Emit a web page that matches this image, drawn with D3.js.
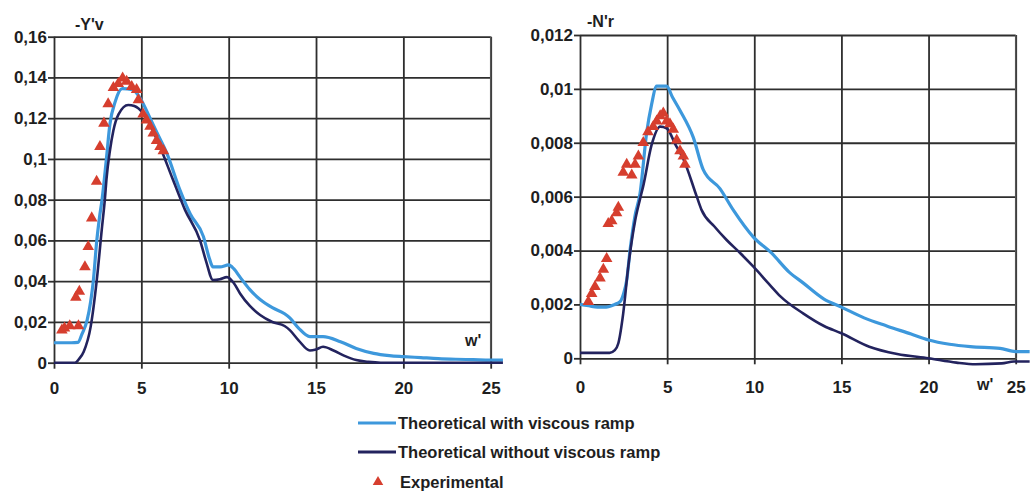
<!DOCTYPE html>
<html lang="en">
<head>
    <title>Y'v and N'r vs w'</title>
    <script src="https://d3js.org/d3.v7.min.js"></script>
    <style>
        body { margin: 0; background: #fff; }
        text { font-family: "Liberation Sans", Arial, sans-serif; fill: #1e1e1e; }
        .grid line { stroke: #2e2e2e; stroke-width: 1.8; }
        .grid path { display: none; }
        .axis path { display: none; }
        .axis line { stroke: #2e2e2e; stroke-width: 1.8; }
        .axis text { font-size: 17px; font-weight: bold; }
    </style>
</head>
<body>

<script>
    // -Y'v panel  [w', value]
    const yvWith = [[0,0.0098],[0.5,0.0098],[1.0,0.0098],[1.37,0.0100],[1.6,0.014],[1.9,0.021],[2.1,0.03],[2.25,0.04],
        [2.45,0.06],[2.6,0.071],[2.75,0.08],[3.0,0.1],[3.2,0.117],[3.5,0.128],[3.9,0.1345],[4.5,0.134],[4.92,0.13],
        [5.5,0.12],[6.0,0.111],[6.45,0.103],[7.2,0.085],[7.8,0.073],[8.55,0.062],[8.9,0.051],[9.1,0.047],[9.5,0.047],
        [10.0,0.048],[10.3,0.046],[10.65,0.042],[11.2,0.036],[11.8,0.031],[12.5,0.027],[13.2,0.024],[13.5,0.022],
        [14.0,0.017],[14.65,0.0128],[15.4,0.0128],[16.4,0.0103],[17.3,0.007],[18.3,0.0046],[19.2,0.0035],[20,0.003],
        [21,0.0025],[22,0.002],[23,0.0017],[24,0.0015],[25,0.0013],[25.7,0.0013]];
    const yvWithout = [[0,0],[0.5,0],[1.2,0],[1.45,0.002],[1.7,0.0054],[2.1,0.0177],[2.45,0.0406],[2.73,0.065],
        [2.92,0.081],[3.0,0.0897],[3.2,0.104],[3.4,0.114],[3.7,0.122],[4.25,0.1265],[4.6,0.126],[5.1,0.1224],
        [5.6,0.115],[6.07,0.106],[6.8,0.09],[7.5,0.075],[8.36,0.06],[8.7,0.05],[9.1,0.0406],[9.5,0.041],[9.9,0.042],
        [10.3,0.039],[10.65,0.034],[11.2,0.028],[11.8,0.0234],[12.5,0.02],[13.2,0.018],[13.5,0.016],[14.0,0.011],
        [14.65,0.006],[15.0,0.0065],[15.4,0.0078],[16.0,0.006],[16.6,0.0035],[17.3,0.0013],[18.0,0.0004],[18.7,0],
        [20,0],[22,0],[25.7,0]];
    const yvExp = [[0.45,0.016],[0.6,0.017],[0.9,0.018],[1.4,0.018],[1.25,0.032],[1.45,0.035],[1.77,0.047],
        [1.96,0.057],[2.16,0.071],[2.44,0.089],[2.63,0.106],[2.86,0.1175],[3.1,0.127],[3.4,0.135],[3.68,0.137],
        [3.93,0.1396],[4.16,0.138],[4.45,0.1355],[4.73,0.134],[4.83,0.129],[5.1,0.122],[5.3,0.119],[5.5,0.116],
        [5.68,0.1126],[5.87,0.109],[6.07,0.106],[6.26,0.104]];

    // -N'r panel  [w', value]
    const nrWith = [[0,0.002],[0.5,0.00195],[1.0,0.0019],[1.5,0.0019],[2.0,0.002],[2.3,0.0021],[2.5,0.0024],
        [2.68,0.0029],[2.87,0.004],[3.16,0.0053],[3.44,0.0061],[3.83,0.0084],[4.1,0.0094],[4.4,0.0101],[4.97,0.0101],
        [5.3,0.0097],[5.74,0.0092],[6.5,0.0082],[7.07,0.007],[8.03,0.0063],[8.8,0.0055],[9.95,0.0045],[11,0.0039],
        [12,0.0032],[12.8,0.0028],[14,0.0022],[15,0.0019],[16.3,0.0015],[17.6,0.0012],[19,0.0009],[20,0.00068],
        [21.2,0.00052],[22.4,0.00043],[24.1,0.00037],[25,0.00025],[25.8,0.00025]];
    const nrWithout = [[0,0.0002],[1.0,0.0002],[1.7,0.0002],[2.0,0.0003],[2.2,0.00056],[2.48,0.00167],[2.77,0.0034],
        [3.16,0.0051],[3.44,0.0059],[3.63,0.0064],[4.1,0.0079],[4.6,0.0086],[4.97,0.00854],[5.5,0.0079],[5.93,0.0074],
        [6.7,0.006],[6.98,0.0055],[7.7,0.0049],[8.4,0.0044],[9.2,0.0039],[9.95,0.0034],[10.9,0.00272],[11.5,0.0023],
        [12.8,0.00167],[14,0.0012],[15,0.00093],[16.6,0.00043],[18.2,0.00016],[20,0],[21.6,-0.00016],[22.7,-0.00022],
        [24.2,-0.00019],[24.9,-0.00012],[25.8,-0.00012]];
    const nrExp = [[0.48,0.0021],[0.67,0.0024],[0.86,0.00266],[1.15,0.00297],[1.34,0.0033],[1.53,0.0037],
        [1.62,0.005],[1.82,0.0051],[2.1,0.0054],[2.2,0.0056],[2.48,0.0069],[2.68,0.0072],[2.97,0.0068],[3.16,0.0072],
        [3.35,0.0075],[3.63,0.008],[3.9,0.0084],[4.2,0.0086],[4.4,0.0088],[4.6,0.009],[4.78,0.0091],[4.97,0.0088],
        [5.16,0.0087],[5.35,0.0085],[5.55,0.0081],[5.74,0.0077],[5.93,0.0075],[6.02,0.0072]];

    const xTicks = [0, 5, 10, 15, 20, 25];
    const legendLabels = ["Theoretical with viscous ramp", "Theoretical without viscous ramp", "Experimental"];

    const cWith = "#3d98dc", cWithout = "#23235e", cExp = "#d63e2e";

    const svg = d3.select("body").append("svg").attr("width", 1031).attr("height", 495);

    const comma = d => String(+d.toFixed(4)).replace(".", ",");

    function panel(cfg) {
        const x = d3.scaleLinear().domain([0, 25]).range(cfg.xr);
        const y = d3.scaleLinear().domain(cfg.yd).range(cfg.yr);
        const w = cfg.xr[1] - cfg.xr[0], h = cfg.yr[0] - cfg.yr[1];
        const g = svg.append("g");

        // grid
        g.append("g").attr("class", "grid")
            .attr("transform", `translate(${cfg.xr[0]},0)`)
            .call(d3.axisLeft(y).ticks(cfg.nt).tickSize(-w).tickFormat(""));
        g.append("g").attr("class", "grid")
            .attr("transform", `translate(0,${cfg.yr[0]})`)
            .call(d3.axisBottom(x).tickValues(xTicks).tickSize(-h).tickFormat(""));
        g.append("line").attr("x1", x(25)).attr("x2", x(25)).attr("y1", y(cfg.yd[1])).attr("y2", y(0))
            .attr("stroke", "#555").attr("stroke-width", 1.5);

        // axes
        g.append("g").attr("class", "axis")
            .attr("transform", `translate(${cfg.xr[0]},0)`)
            .call(d3.axisLeft(y).ticks(cfg.nt).tickSize(6).tickPadding(1).tickFormat(comma));
        g.append("g").attr("class", "axis")
            .attr("transform", `translate(0,${cfg.yr[0]})`)
            .call(d3.axisBottom(x).tickValues(xTicks).tickSize(6).tickPadding(cfg.xpad));

        const line = d3.line().x(d => x(d[0])).y(d => y(d[1])).curve(d3.curveMonotoneX);
        g.append("path").datum(cfg.lineWith).attr("d", line)
            .attr("fill", "none").attr("stroke", cWith).attr("stroke-width", 3.2);
        g.append("path").datum(cfg.lineWithout).attr("d", line)
            .attr("fill", "none").attr("stroke", cWithout).attr("stroke-width", 2.6);

        g.selectAll(".exp").data(cfg.exp).join("path")
            .attr("transform", d => `translate(${x(d[0])},${y(d[1])})`)
            .attr("d", d3.symbol(d3.symbolTriangle, 58))
            .attr("fill", cExp);

        g.append("text").attr("x", cfg.title[0]).attr("y", cfg.title[1])
            .style("font-size", "16px").style("font-weight", "bold").text(cfg.titleText);
        g.append("text").attr("x", cfg.wlab[0]).attr("y", cfg.wlab[1])
            .style("font-size", "16px").style("font-weight", "bold").text("w'");
    }

    panel({xr: [54, 490.7], yd: [0, 0.16], yr: [362.7, 36.7], nt: 8, xpad: 13,
        lineWith: yvWith, lineWithout: yvWithout, exp: yvExp,
        title: [75, 30], titleText: "-Y'v", wlab: [465, 346]});
    panel({xr: [580, 1015.7], yd: [0, 0.012], yr: [358.3, 35], nt: 6, xpad: 17,
        lineWith: nrWith, lineWithout: nrWithout, exp: nrExp,
        title: [587, 27], titleText: "-N'r", wlab: [977, 390]});

    // legend
    const lg = svg.append("g").attr("transform", "translate(358,0)");
    const ly = [423, 452, 482];
    lg.append("line").attr("x1", 0).attr("x2", 38).attr("y1", ly[0]).attr("y2", ly[0])
        .attr("stroke", cWith).attr("stroke-width", 3);
    lg.append("line").attr("x1", 0).attr("x2", 38).attr("y1", ly[1]).attr("y2", ly[1])
        .attr("stroke", cWithout).attr("stroke-width", 3);
    lg.append("path").attr("transform", `translate(20,${ly[2]})`)
        .attr("d", d3.symbol(d3.symbolTriangle, 48)).attr("fill", cExp);
    lg.selectAll(".lt").data(legendLabels).join("text")
        .attr("x", (d, i) => i === 2 ? 42 : 40).attr("y", (d, i) => ly[i]).attr("dy", "0.35em")
        .style("font-size", "16.5px").style("font-weight", "bold")
        .text(d => d);
</script>

</body>
</html>
